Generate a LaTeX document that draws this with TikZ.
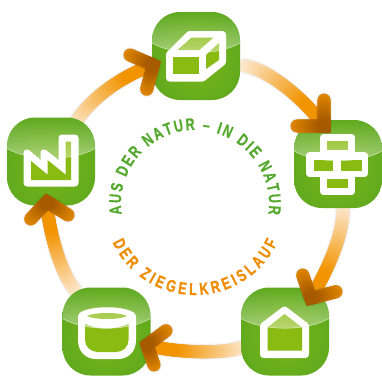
\documentclass[tikz,border=0pt]{standalone}
\usepackage{fontspec}
\usetikzlibrary{decorations.markings,decorations.text,fadings,calc}
\newfontfamily\ringfont[FakeStretch=0.74,FakeBold=0.5]{Liberation Sans Bold}
\definecolor{gA}{HTML}{7AB418}
\definecolor{gB}{HTML}{69AE1C}
\definecolor{gC}{HTML}{59A720}
\definecolor{gD}{HTML}{4A9D27}
\definecolor{inner}{HTML}{8ABB13}
\definecolor{pale}{HTML}{FDEBD5}
\definecolor{orng}{HTML}{F29400}
\definecolor{headA}{HTML}{E08600}
\definecolor{headB}{HTML}{A65A00}
\definecolor{ringgreen}{HTML}{55A92F}
\definecolor{ringorange}{HTML}{F08C00}
\pgfdeclareradialshading{iconshade}{\pgfpoint{0bp}{-4bp}}{color(0bp)=(gA);color(18bp)=(gB);color(36bp)=(gC);color(50bp)=(gD);color(80bp)=(gD)}
\tikzset{
  x=1pt,y=1pt,
  icon/.style={rectangle,rounded corners=28pt,minimum size=88pt,inner sep=0pt,outer sep=0pt,shading=iconshade},
  glyph/.style={draw=white,fill=white,line width=7pt,line join=round},
  glyphin/.style={fill=inner},
  gradpath/.style n args={4}{decoration={markings,mark=between positions 0 and 1 step 0.8pt with {
     \pgfmathsetmacro\mixv{min(100,#4*100*\pgfkeysvalueof{/pgf/decoration/mark info/distance from start}/\pgfdecoratedpathlength)}
     \fill[color=#2!\mixv!#1] (0,0) circle[radius=#3/2];}},decorate},
}
\newcommand\softshadow[2]{%
  \begin{scope}[shift={(4.5,-4.5)},line cap=round,line join=round,draw=black]
   \draw[line width=#2+3pt,draw opacity=.04] #1;
   \draw[line width=#2+1pt,draw opacity=.06] #1;
   \draw[line width=#2-1pt,draw opacity=.07] #1;
   \draw[line width=#2-3pt,draw opacity=.08] #1;
   \draw[line width=#2-5pt,draw opacity=.08] #1;
  \end{scope}}
\newcommand\shaft[1]{\softshadow{#1}{13pt}\path[gradpath={pale}{orng}{13}{1.35}] #1;}
\newcommand\headed[3]{%
  \softshadow{(#1) -- (#3) -- (#2)}{13pt}
  \draw[headB,line width=13pt,line join=miter,miter limit=3] ($(#3)!8pt!(#1)$) -- (#3) -- ($(#3)!8pt!(#2)$);
  \path[gradpath={headA}{headB}{13}{1}] (#1) -- (#3);
  \path[gradpath={headA}{headB}{13}{1}] (#2) -- (#3);}
\newcommand\gloss[1]{%
  \begin{scope}[shift={(#1.north west)}]
   \fill[white,fill opacity=.43,path fading=north] (0,-28) arc[start angle=180,end angle=90,radius=28] -- (60,0) arc[start angle=90,end angle=0,radius=28] -- (88,-31) .. controls (66,-44) and (22,-44) .. (0,-31) -- cycle;
   \draw[white,draw opacity=.65,line width=.5pt] (88,-31) .. controls (66,-44) and (22,-44) .. (0,-31);
  \end{scope}}
\begin{document}
\begin{tikzpicture}
\useasboundingbox (0,-376) rectangle (382,0);
\fill[white] (0,-376) rectangle (382,0);
% connector ends
\coordinate (s1) at (245,-66); \coordinate (c1a) at (270,-70); \coordinate (c1b) at (305,-100); \coordinate (t1) at (324,-126); \coordinate (b1a) at (324,-100); \coordinate (b1b) at (297,-126);
\coordinate (s2) at (343,-210); \coordinate (c2a) at (343,-235); \coordinate (c2b) at (328,-270); \coordinate (t2) at (310.7,-298.3); \coordinate (b2a) at (302.7,-275); \coordinate (b2b) at (336,-291.7);
\coordinate (s3) at (243,-347); \coordinate (c3a) at (222,-355); \coordinate (c3b) at (170,-352); \coordinate (t3) at (147,-345); \coordinate (b3a) at (166,-330.7); \coordinate (b3b) at (154,-365);
\coordinate (s4) at (75,-290); \coordinate (c4a) at (60,-272); \coordinate (c4b) at (48,-228); \coordinate (t4) at (47,-201.7); \coordinate (b4a) at (30.7,-219); \coordinate (b4b) at (68,-215);
\coordinate (s5) at (74,-125); \coordinate (c5a) at (90,-98); \coordinate (c5b) at (122,-76); \coordinate (t5) at (153.3,-65); \coordinate (b5a) at (130,-55); \coordinate (b5b) at (146.7,-89.3);
% shafts
\shaft{(s1) .. controls (c1a) and (c1b) .. (t1)}
\shaft{(s2) .. controls (c2a) and (c2b) .. (t2)}
\shaft{(s3) .. controls (c3a) and (c3b) .. (t3)}
\shaft{(s4) .. controls (c4a) and (c4b) .. (t4)}
\shaft{(s5) .. controls (c5a) and (c5b) .. (t5)}
% icons
\node[icon] (top) at (196,-56) {};
\node[icon] (right) at (338,-164) {};
\node[icon] (house) at (285,-331.5) {};
\node[icon] (barrel) at (106.5,-331.5) {};
\node[icon] (factory) at (51,-161.5) {};
% box glyph
\draw[glyph] (169.5,-78) -- (169.5,-54.5) -- (189.5,-34.5) -- (222.5,-34.5) -- (222.5,-62) -- (202.5,-78) -- cycle;
\fill[glyphin] (173,-57) rectangle (199,-74);
\fill[glyphin] (177.5,-50) -- (191.5,-37.5) -- (213.5,-37.5) -- (199.5,-50) -- cycle;
\fill[glyphin] (206,-55) -- (219,-43) -- (219,-60) -- (206,-69) -- cycle;
% brick glyph
\draw[glyph] (323.5,-137.5) -- (351.5,-137.5) -- (351.5,-155.5) -- (364.5,-155.5) -- (364.5,-173.5) -- (351.5,-173.5) -- (351.5,-191.5) -- (323.5,-191.5) -- (323.5,-173.5) -- (309.5,-173.5) -- (309.5,-155.5) -- (323.5,-155.5) -- cycle;
\fill[glyphin] (327,-141) rectangle (348,-150);
\fill[glyphin] (314,-160) rectangle (333,-171);
\fill[glyphin] (341,-160) rectangle (362,-171);
\fill[glyphin] (327,-179) rectangle (348,-188);
% house glyph
\draw[glyph] (263.5,-354.5) -- (263.5,-326) -- (284.5,-310) -- (305.5,-326) -- (305.5,-354.5) -- cycle;
\fill[glyphin] (267.5,-350.5) -- (267.5,-327.5) -- (284.5,-314) -- (302,-327.5) -- (302,-350.5) -- cycle;
% barrel glyph
\draw[glyph] (81.5,-316) .. controls (90,-309) and (124,-309) .. (132.5,-316) -- (132.5,-340) .. controls (132.5,-350) and (126,-355.5) .. (118,-355.5) -- (96,-355.5) .. controls (88,-355.5) and (81.5,-350) .. (81.5,-340) -- cycle;
\fill[glyphin] (87,-316) .. controls (94,-312) and (120,-312) .. (127,-316) .. controls (120,-320) and (94,-320) .. (87,-316) -- cycle;
\fill[glyphin] (85,-324) .. controls (98,-330) and (115,-330) .. (128.5,-324) -- (128.5,-340) .. controls (128.5,-347) and (123,-352) .. (116,-352) -- (98,-352) .. controls (91,-352) and (85,-347) .. (85,-340) -- cycle;
% factory glyph
\draw[glyph] (27,-183) -- (27,-153) -- (44,-167) -- (44,-153) -- (62,-167) -- (62,-138) -- (75,-138) -- (75,-183) -- cycle;
\fill[glyphin] (31,-180) -- (31,-161) -- (47.5,-174.5) -- (47.5,-160) -- (65.5,-174.5) -- (65.5,-141.5) -- (71,-141.5) -- (71,-180) -- cycle;
% gloss
\gloss{top}\gloss{right}\gloss{house}\gloss{barrel}\gloss{factory}
% heads
\headed{b1a}{b1b}{t1}
\headed{b2a}{b2b}{t2}
\headed{b3a}{b3b}{t3}
\headed{b4a}{b4b}{t4}
\headed{b5a}{b5b}{t5}
% ring text
\coordinate (ring) at (195,-204);
\path[decorate,decoration={text along path,text align=fit to path,text={|\fontsize{17}{17}\ringfont\color{ringgreen}|AUS DER NATUR – IN DIE NATUR}}]
  ($(ring)+(188:74)$) arc[start angle=188,end angle=-8,radius=74];
\path[decorate,decoration={text along path,text align=fit to path,text={|\fontsize{17}{17}\ringfont\color{ringorange}|DER ZIEGELKREISLAUF}}]
  ($(ring)+(205:91)$) arc[start angle=205,end angle=335,radius=91];
\end{tikzpicture}
\end{document}
